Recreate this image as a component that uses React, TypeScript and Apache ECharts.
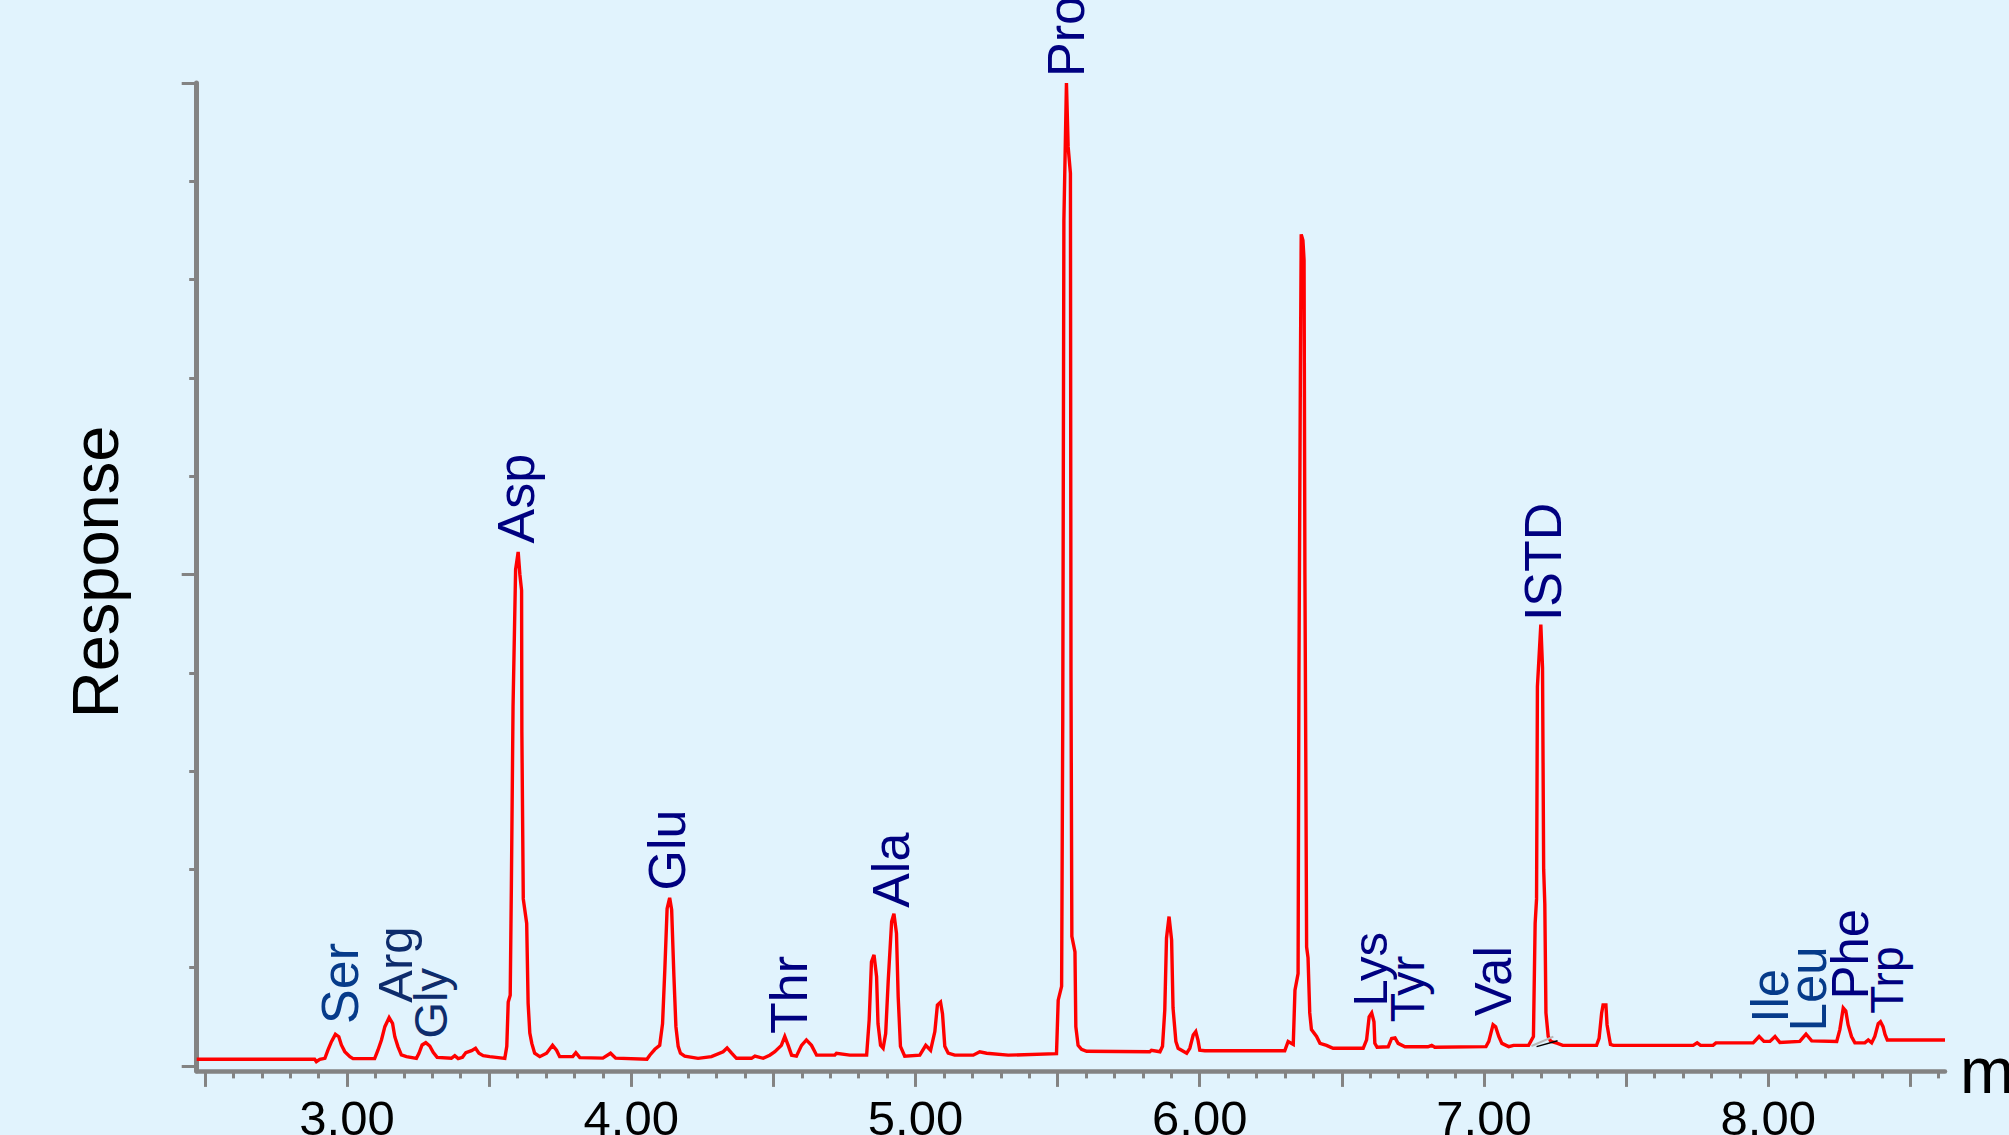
import React, { useEffect, useRef } from 'react';
import * as echarts from 'echarts';

// Chromatogram trace: [retention time (min), response (% of full scale)]
const trace: [number, number][] = [
  [2.471, 0.68], [2.886, 0.68], [2.892, 0.44], [2.904, 0.68], [2.922, 0.78], [2.933, 1.63], [2.945, 2.47],
  [2.959, 3.22], [2.971, 2.98], [2.98, 2.14], [2.992, 1.46], [3.01, 0.95], [3.021, 0.75], [3.097, 0.75],
  [3.109, 1.63], [3.121, 2.65], [3.133, 4.0], [3.148, 4.92], [3.16, 4.34], [3.168, 2.98], [3.179, 1.97],
  [3.191, 1.12], [3.209, 0.95], [3.244, 0.78], [3.253, 1.29], [3.264, 2.14], [3.277, 2.37], [3.291, 2.03],
  [3.303, 1.39], [3.317, 0.88], [3.367, 0.78], [3.379, 1.05], [3.391, 0.75], [3.406, 0.88], [3.418, 1.36],
  [3.438, 1.56], [3.452, 1.8], [3.464, 1.29], [3.479, 1.05], [3.502, 0.95], [3.555, 0.78], [3.562, 2.0],
  [3.567, 6.5], [3.574, 7.2], [3.578, 18], [3.584, 36.6], [3.593, 50.5], [3.602, 52.3], [3.608, 50],
  [3.614, 48.4], [3.615, 34], [3.62, 17], [3.632, 14.5], [3.637, 6.4], [3.643, 3.35], [3.65, 2.3],
  [3.66, 1.3], [3.678, 0.95], [3.702, 1.3], [3.723, 2.1], [3.737, 1.6], [3.748, 0.95], [3.794, 0.95],
  [3.805, 1.35], [3.819, 0.85], [3.9, 0.8], [3.927, 1.3], [3.945, 0.8], [4.055, 0.68], [4.065, 1.1],
  [4.083, 1.7], [4.1, 2.1], [4.11, 4.3], [4.118, 9.8], [4.126, 16.0], [4.135, 17.1], [4.142, 15.9],
  [4.15, 9.1], [4.157, 4.0], [4.165, 2.0], [4.173, 1.3], [4.188, 1.0], [4.235, 0.78], [4.282, 0.95],
  [4.323, 1.45], [4.337, 1.83], [4.353, 1.3], [4.37, 0.78], [4.423, 0.78], [4.435, 1.0], [4.464, 0.78],
  [4.487, 1.1], [4.505, 1.45], [4.528, 2.1], [4.54, 3.0], [4.552, 2.1], [4.564, 1.1], [4.581, 1.0],
  [4.599, 2.1], [4.616, 2.65], [4.634, 2.1], [4.652, 1.1], [4.716, 1.1], [4.722, 1.3], [4.769, 1.1],
  [4.828, 1.1], [4.837, 4.7], [4.845, 10.6], [4.854, 11.3], [4.863, 9.1], [4.868, 4.3], [4.877, 2.1],
  [4.886, 1.8], [4.895, 3.3], [4.904, 8.7], [4.916, 14.7], [4.924, 15.5], [4.933, 13.5], [4.939, 7.05],
  [4.947, 2.0], [4.962, 1.0], [5.015, 1.1], [5.036, 2.1], [5.053, 1.6], [5.068, 3.5], [5.077, 6.2],
  [5.088, 6.5], [5.095, 5.3], [5.103, 2.0], [5.115, 1.3], [5.138, 1.1], [5.203, 1.1], [5.226, 1.45],
  [5.25, 1.3], [5.326, 1.1], [5.496, 1.25], [5.502, 6.7], [5.514, 8.1], [5.518, 35], [5.522, 86],
  [5.531, 100], [5.537, 93.5], [5.545, 90.8], [5.547, 40], [5.55, 13.2], [5.561, 11.6], [5.564, 4.0],
  [5.572, 2.1], [5.584, 1.7], [5.602, 1.5], [5.824, 1.45], [5.83, 1.6], [5.86, 1.45], [5.869, 2.0],
  [5.877, 5.7], [5.883, 13.0], [5.892, 15.2], [5.901, 12.8], [5.906, 5.9], [5.916, 2.5], [5.924, 1.8],
  [5.942, 1.5], [5.954, 1.3], [5.965, 1.8], [5.977, 3.15], [5.986, 3.5], [5.994, 2.6], [6.0, 1.6],
  [6.018, 1.55], [6.299, 1.55], [6.311, 2.5], [6.329, 2.2], [6.335, 7.7], [6.346, 9.4], [6.349, 40],
  [6.354, 70], [6.357, 84.6], [6.363, 84], [6.367, 82], [6.37, 50], [6.373, 32], [6.376, 12.1],
  [6.381, 11], [6.387, 5.4], [6.393, 3.7], [6.411, 3.0], [6.423, 2.3], [6.446, 2.1], [6.469, 1.8],
  [6.575, 1.8], [6.587, 2.65], [6.596, 5.0], [6.605, 5.4], [6.613, 4.5], [6.616, 2.3], [6.624, 1.9],
  [6.663, 1.95], [6.675, 2.8], [6.687, 2.85], [6.698, 2.3], [6.722, 1.95], [6.803, 1.95], [6.816, 2.1],
  [6.827, 1.9], [7.007, 1.97], [7.017, 2.5], [7.032, 4.2], [7.041, 4.0], [7.052, 3.0], [7.063, 2.3],
  [7.087, 1.97], [7.104, 2.1], [7.157, 2.1], [7.174, 3.0], [7.18, 14.5], [7.185, 17], [7.188, 38.6],
  [7.2, 44.9], [7.206, 40.5], [7.21, 20], [7.214, 16.5], [7.218, 5.4], [7.226, 3.0], [7.235, 2.5],
  [7.259, 2.3], [7.277, 2.1], [7.396, 2.1], [7.405, 2.8], [7.414, 5.4], [7.419, 6.2], [7.429, 6.2],
  [7.433, 4.2], [7.44, 3.0], [7.445, 2.2], [7.455, 2.1], [7.736, 2.1], [7.75, 2.35], [7.762, 2.1],
  [7.806, 2.1], [7.816, 2.35], [7.947, 2.35], [7.968, 3.0], [7.985, 2.5], [8.006, 2.5], [8.024, 3.0],
  [8.041, 2.4], [8.111, 2.5], [8.133, 3.25], [8.153, 2.55], [8.241, 2.5], [8.252, 3.7], [8.264, 5.9],
  [8.273, 5.6], [8.281, 4.2], [8.293, 3.0], [8.305, 2.35], [8.34, 2.35], [8.352, 2.65], [8.364, 2.35],
  [8.375, 3.0], [8.387, 4.3], [8.395, 4.5], [8.404, 4.0], [8.411, 3.2], [8.419, 2.65], [8.622, 2.65],
];

// Integration baseline marks under the ISTD peak
const integrationBlack: [number, number][] = [[7.185, 1.97], [7.259, 2.57]];
const integrationGray: [number, number][] = [[7.167, 2.03], [7.244, 2.98]];

// Peak annotations (label anchor time / response)
const peakNames = ['Ser', 'Arg', 'Gly', 'Asp', 'Glu', 'Thr', 'Ala', 'Pro', 'Lys', 'Tyr', 'Val', 'ISTD', 'Ile', 'Leu', 'Phe', 'Trp'];
const peakLabelTimes = [2.974, 3.167, 3.294, 3.593, 4.124, 4.555, 4.915, 5.529, 6.598, 6.732, 7.034, 7.206, 8.008, 8.143, 8.289, 8.418];
const peakLabelResponses = [4.23, 6.38, 2.75, 53.1, 17.8, 3.2, 16.04, 100.57, 6.01, 4.39, 5.02, 45.21, 4.36, 3.46, 6.71, 5.26];

// Axis ranges and ticks
const xMin = 2.471;
const xMax = 8.622;
const yMin = -0.5;
const yMax = 100;
const xMajorTicks = [2.5, 3.0, 3.5, 4.0, 4.5, 5.0, 5.5, 6.0, 6.5, 7.0, 7.5, 8.0, 8.5];
const xTickLabels = [3, 4, 5, 6, 7, 8];
const xMinorTicks: number[] = [];
for (let i = 25; i <= 86; i++) {
  if (i % 5 !== 0) xMinorTicks.push(i / 10);
}
const yMajorTicks = [0, 50, 100];
const yMinorTicks = [10, 20, 30, 40, 60, 70, 80, 90];

// Label styling (not data)
const labelStyle: Record<string, { size: number; color: string }> = {
  Ser: { size: 52, color: '#063B8A' },
  Arg: { size: 49, color: '#0E2C6C' },
  Gly: { size: 47, color: '#0E2C6C' },
  Asp: { size: 52, color: '#000080' },
  Glu: { size: 52, color: '#000080' },
  Thr: { size: 52, color: '#000080' },
  Ala: { size: 52, color: '#000080' },
  Pro: { size: 52, color: '#000080' },
  Lys: { size: 49, color: '#000080' },
  Tyr: { size: 48, color: '#000080' },
  Val: { size: 51, color: '#000080' },
  ISTD: { size: 52, color: '#000080' },
  Ile: { size: 51, color: '#063B8A' },
  Leu: { size: 51, color: '#063B8A' },
  Phe: { size: 51, color: '#000080' },
  Trp: { size: 46, color: '#000080' },
};

const FONT = "'Liberation Sans', Arial, Helvetica, sans-serif";
const AXIS_GRAY = '#838383';
const BG = '#E1F3FD';

export default function App() {
  const ref = useRef<HTMLDivElement>(null);

  useEffect(() => {
    if (!ref.current) return;
    const chart = echarts.init(ref.current, undefined, { renderer: 'svg' });

    const labelData = peakNames.map((name, i) => ({
      name,
      value: [peakLabelTimes[i], peakLabelResponses[i]],
      label: { fontSize: labelStyle[name].size, color: labelStyle[name].color },
    }));

    chart.setOption({
      animation: false,
      backgroundColor: BG,
      grid: {
        left: 196.7,
        right: 64,
        top: 83,
        bottom: 64.1,
        containLabel: false,
        outerBoundsMode: 'none',
      },
      xAxis: [
        {
          type: 'value',
          min: xMin,
          max: xMax,
          position: 'bottom',
          axisLine: { show: true, onZero: false, lineStyle: { color: AXIS_GRAY, width: 4.5 } },
          axisTick: { show: true, customValues: xMajorTicks, length: 16, lineStyle: { color: AXIS_GRAY, width: 3 } },
          axisLabel: {
            show: true,
            customValues: xTickLabels,
            formatter: (v: number) => v.toFixed(2),
            margin: 23,
            fontSize: 49,
            color: '#000',
            fontFamily: FONT,
          },
          splitLine: { show: false },
          name: 'min',
          nameLocation: 'end',
          nameGap: 15,
          nameTextStyle: { fontSize: 65, color: '#000', fontFamily: FONT },
        },
        {
          type: 'value',
          min: xMin,
          max: xMax,
          position: 'bottom',
          axisLine: { show: false, onZero: false },
          axisTick: { show: true, customValues: xMinorTicks, length: 7.5, lineStyle: { color: AXIS_GRAY, width: 3 } },
          axisLabel: { show: false },
          splitLine: { show: false },
        },
      ],
      yAxis: [
        {
          type: 'value',
          min: yMin,
          max: yMax,
          position: 'left',
          axisLine: { show: true, onZero: false, lineStyle: { color: AXIS_GRAY, width: 5 } },
          axisTick: { show: true, customValues: yMajorTicks, length: 15, lineStyle: { color: AXIS_GRAY, width: 3 } },
          axisLabel: { show: false },
          splitLine: { show: false },
          name: 'Response',
          nameLocation: 'middle',
          nameRotate: 90,
          nameGap: 69,
          nameTextStyle: { fontSize: 65, color: '#000', fontFamily: FONT, padding: [0, 0, 0, 10] },
        },
        {
          type: 'value',
          min: yMin,
          max: yMax,
          position: 'left',
          axisLine: { show: false, onZero: false },
          axisTick: { show: true, customValues: yMinorTicks, length: 7.5, lineStyle: { color: AXIS_GRAY, width: 3 } },
          axisLabel: { show: false },
          splitLine: { show: false },
        },
      ],
      series: [
        {
          name: 'Response',
          type: 'line',
          xAxisIndex: 0,
          yAxisIndex: 0,
          data: trace,
          symbol: 'none',
          showSymbol: false,
          clip: false,
          lineStyle: { color: '#FF0000', width: 3.4, join: 'miter' },
          silent: true,
          z: 2,
        },
        {
          name: 'baseline-gray',
          type: 'line',
          data: integrationGray,
          symbol: 'none',
          lineStyle: { color: '#B8B8B8', width: 2 },
          silent: true,
          z: 3,
        },
        {
          name: 'baseline-black',
          type: 'line',
          data: integrationBlack,
          symbol: 'none',
          lineStyle: { color: '#000000', width: 1.5 },
          silent: true,
          z: 3,
        },
        {
          name: 'peaks',
          type: 'scatter',
          data: labelData,
          symbolSize: 1,
          itemStyle: { color: 'rgba(0,0,0,0)', opacity: 1 },
          clip: false,
          silent: true,
          z: 5,
          label: {
            show: true,
            formatter: '{b}',
            position: 'top',
            distance: 0,
            rotate: 90,
            align: 'left',
            verticalAlign: 'middle',
            opacity: 1,
            fontFamily: FONT,
          },
        },
      ],
    });

    return () => {
      chart.dispose();
    };
  }, []);

  return (
    <div
      ref={ref}
      style={{ position: 'fixed', left: 0, top: 0, width: 2009, height: 1135, background: BG }}
    />
  );
}
